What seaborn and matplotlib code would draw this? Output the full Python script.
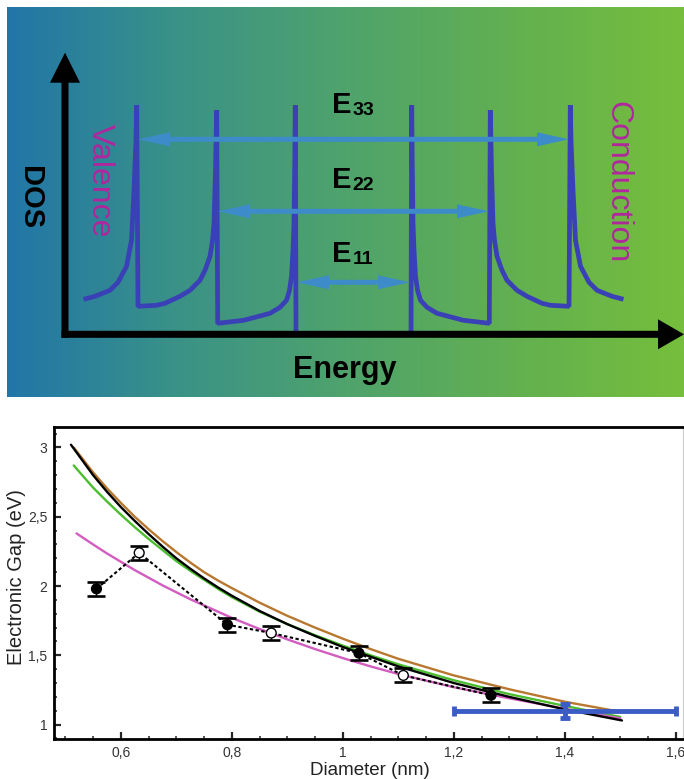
import numpy as np
import pandas as pd
import matplotlib
matplotlib.use("Agg")
import matplotlib.pyplot as plt
import seaborn as sns
from matplotlib.colors import LinearSegmentedColormap
from matplotlib.ticker import FixedLocator, FixedFormatter, MultipleLocator

sns.set_theme(style="ticks")
plt.rcParams["font.family"] = ["Liberation Sans", "DejaVu Sans"]

# ---------------- data: top schematic (valence half, conduction is its mirror) ----
dos_energy = [-270, -258.5, -243.5, -235.5, -227, -222, -219.5, -217.5, -216.8,
              -215.5, -197, -188.5, -173.5, -163.5, -153.5, -148.5, -143.5, -141,
              -139.5, -138, -136.8, -135.8, -110, -98.5, -83.5, -73.5, -67, -64,
              -62, -60.5, -59.5, -58.7, -58.2, -57.5]
dos_height = [35, 38, 44, 52, 68, 94, 144, 194, 229,
              28, 29, 31, 38, 44, 54, 64, 78, 94,
              111, 164, 224, 11, 14, 17, 21, 27, 34, 44,
              58, 84, 111, 174, 229, 0]
vhs_half = [58, 137, 217]          # half of E11, E22, E33
arrow_height = [52, 123, 195]
trans_names = ["11", "22", "33"]
trans_label_height = [72, 146, 221]

# ---------------- data: bottom plot ----------------
d_brown = [0.515, 0.55, 0.575, 0.6, 0.625, 0.65, 0.675, 0.7, 0.725, 0.75, 0.775, 0.8,
           0.85, 0.9, 0.95, 1.0, 1.05, 1.1, 1.2, 1.3, 1.4, 1.49]
gap_brown = [3.00, 2.82, 2.705, 2.60, 2.50, 2.41, 2.325, 2.245, 2.17, 2.10, 2.04, 1.985,
             1.88, 1.785, 1.70, 1.62, 1.545, 1.475, 1.355, 1.255, 1.165, 1.10]
d_black = [0.51, 0.55, 0.575, 0.6, 0.625, 0.65, 0.675, 0.7, 0.725, 0.75, 0.775, 0.8,
           0.85, 0.9, 0.95, 1.0, 1.05, 1.1, 1.2, 1.3, 1.4, 1.503]
gap_black = [3.02, 2.80, 2.68, 2.57, 2.47, 2.375, 2.285, 2.20, 2.125, 2.055, 1.99, 1.93,
             1.82, 1.725, 1.64, 1.56, 1.49, 1.42, 1.30, 1.20, 1.11, 1.03]
d_green = [0.515, 0.55, 0.575, 0.6, 0.625, 0.65, 0.675, 0.7, 0.725, 0.75, 0.775, 0.8,
           0.85, 0.9, 0.95, 1.0, 1.05, 1.1, 1.2, 1.3, 1.4, 1.5]
gap_green = [2.87, 2.71, 2.61, 2.515, 2.425, 2.34, 2.26, 2.18, 2.11, 2.045, 1.98, 1.92,
             1.815, 1.725, 1.645, 1.57, 1.50, 1.435, 1.32, 1.22, 1.135, 1.055]
d_magenta = [0.52, 0.55, 0.575, 0.6, 0.625, 0.65, 0.675, 0.7, 0.725, 0.75, 0.775, 0.8,
             0.85, 0.9, 0.95, 1.0, 1.05, 1.1, 1.2, 1.3, 1.4, 1.5]
gap_magenta = [2.38, 2.30, 2.235, 2.175, 2.115, 2.06, 2.005, 1.955, 1.905, 1.86, 1.815, 1.77,
               1.69, 1.615, 1.545, 1.48, 1.42, 1.365, 1.27, 1.19, 1.115, 1.045]

d_filled = [0.556, 0.792, 1.029, 1.267]
gap_filled = [1.98, 1.721, 1.516, 1.212]
d_open = [0.633, 0.871, 1.109]
gap_open = [2.24, 1.661, 1.355]
gap_err = 0.05

blue_d, blue_gap = 1.4, 1.1
blue_xerr, blue_yerr = 0.2, 0.05

xtick_values = [0.6, 0.8, 1.0, 1.2, 1.4, 1.6]
xtick_labels = ["0,6", "0,8", "1", "1,2", "1,4", "1,6"]
ytick_values = [1.0, 1.5, 2.0, 2.5, 3.0]
ytick_labels = ["1", "1,5", "2", "2,5", "3"]

dos_color = "#3a40b6"
arrow_color = "#3d8cc9"
label_pink = "#b0279e"

fig = plt.figure(figsize=(6.84, 7.79), dpi=100)

# ================= top panel =================
ax_top = fig.add_axes([7 / 684, 1 - 397.3 / 779, 677 / 684, 390.3 / 779])
xl, yl = (-346.5, 330.5), (-63, 327.3)
bg = LinearSegmentedColormap.from_list("bg", ["#2176a8", "#3a9287", "#4fa36c", "#62b051", "#76be3c"])
ax_top.imshow(np.linspace(0, 1, 256)[None, :], extent=[xl[0], xl[1], yl[0], yl[1]],
              aspect="auto", cmap=bg, zorder=0)
ax_top.set_xlim(xl)
ax_top.set_ylim(yl)
ax_top.axis("off")

sns.lineplot(x=dos_energy, y=dos_height, sort=False, estimator=None, ax=ax_top,
             color=dos_color, lw=3.4, solid_joinstyle="bevel", solid_capstyle="butt", zorder=2)
sns.lineplot(x=[-e for e in dos_energy[::-1]], y=dos_height[::-1], sort=False, estimator=None,
             ax=ax_top, color=dos_color, lw=3.4, solid_joinstyle="bevel",
             solid_capstyle="butt", zorder=2)

# axes arrows
ax_top.arrow(-288.5, -3.5, 0, 285.1, width=7, head_width=30, head_length=30,
             length_includes_head=True, fc="black", ec="none", zorder=3)
ax_top.arrow(-292, 0, 622.5, 0, width=7, head_width=30, head_length=26,
             length_includes_head=True, fc="black", ec="none", zorder=3)

# transition arrows and labels
for half, h, name, lh in zip(vhs_half, arrow_height, trans_names, trans_label_height):
    for sgn in (-1, 1):
        ax_top.arrow(0, h, sgn * (half - 1.5), 0, width=5, head_width=14, head_length=32,
                     length_includes_head=True, fc=arrow_color, ec="none", zorder=4)
    ax_top.text(-2, lh, "E", ha="right", va="baseline", fontsize=21, fontweight="bold",
                color="black", zorder=5)
    ax_top.text(-1, lh - 2, name, ha="left", va="baseline", fontsize=14, fontweight="bold",
                color="black", zorder=5)

ax_top.text(-8.5, -36, "Energy", ha="center", va="center", fontsize=22, fontweight="bold",
            color="black")
ax_top.text(-323.5, 137, "DOS", ha="center", va="center", rotation=-90, fontsize=21,
            fontweight="bold", color="black")
ax_top.text(-254, 154, "Valence", ha="center", va="center", rotation=-90, fontsize=23,
            color=label_pink)
ax_top.text(263.5, 152, "Conduction", ha="center", va="center", rotation=-90, fontsize=23,
            color=label_pink)

# ================= bottom panel =================
ax = fig.add_axes([54.3 / 684, 1 - 739.3 / 779, 628.7 / 684, 312.6 / 779])
ax.set_facecolor("white")

curves = pd.concat([
    pd.DataFrame({"d": d_brown, "gap": gap_brown, "model": "brown"}),
    pd.DataFrame({"d": d_green, "gap": gap_green, "model": "green"}),
    pd.DataFrame({"d": d_magenta, "gap": gap_magenta, "model": "magenta"}),
    pd.DataFrame({"d": d_black, "gap": gap_black, "model": "black"}),
])
sns.lineplot(data=curves, x="d", y="gap", hue="model", estimator=None, sort=True,
             palette={"brown": "#b8782f", "green": "#4cbd2e", "magenta": "#d25cc0", "black": "black"},
             lw=1.7, legend=False, ax=ax, zorder=2)

pts = pd.DataFrame({"d": d_filled + d_open, "gap": gap_filled + gap_open,
                    "kind": ["filled"] * len(d_filled) + ["open"] * len(d_open)}).sort_values("d")
sns.lineplot(data=pts, x="d", y="gap", estimator=None, sort=True, color="black", lw=1.5,
             linestyle=(0, (1.6, 1.2)), ax=ax, zorder=3)
ax.errorbar(pts["d"], pts["gap"], yerr=gap_err, fmt="none", ecolor="black", elinewidth=1.0,
            capsize=6.5, capthick=1.9, zorder=4)
sns.scatterplot(data=pts, x="d", y="gap", hue="kind", palette={"filled": "black", "open": "white"},
                edgecolor="black", linewidth=1.0, s=50, legend=False, ax=ax, zorder=5)

ax.errorbar([blue_d], [blue_gap], xerr=blue_xerr, yerr=blue_yerr, fmt="none", ecolor="#3b5cc4",
            elinewidth=3.5, capsize=3.5, capthick=3.5, zorder=6)

ax.set_xlim(0.48, 1.613)
ax.set_ylim(0.894, 3.15)
ax.xaxis.set_major_locator(FixedLocator(xtick_values))
ax.xaxis.set_major_formatter(FixedFormatter(xtick_labels))
ax.yaxis.set_major_locator(FixedLocator(ytick_values))
ax.yaxis.set_major_formatter(FixedFormatter(ytick_labels))
ax.xaxis.set_minor_locator(MultipleLocator(0.05))
ax.yaxis.set_minor_locator(MultipleLocator(0.1))
ax.tick_params(which="major", direction="in", length=5, width=1.6, labelsize=10,
               labelcolor="#333333", pad=5)
ax.tick_params(which="minor", direction="in", length=2.5, width=1.1)
ax.tick_params(top=False, right=False, which="both")

for side in ["left", "bottom", "top"]:
    ax.spines[side].set_linewidth(2.0)
    ax.spines[side].set_color("black")
ax.spines["right"].set_linewidth(0.8)
ax.spines["right"].set_color("#cccccc")

ax.set_xlabel("Diameter (nm)", fontsize=13.5, color="#222222")
ax.set_ylabel("Electronic Gap (eV)", fontsize=14.5, color="#222222")
ax.xaxis.set_label_coords(0.502, -0.072)
ax.yaxis.set_label_coords(-0.045, 0.52)

fig.savefig("out.png", dpi=100)
